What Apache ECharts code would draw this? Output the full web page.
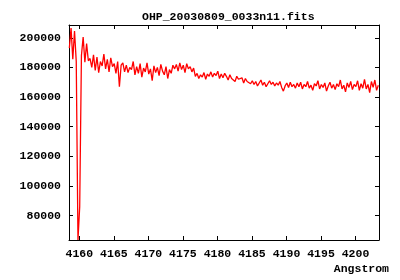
<!DOCTYPE html>
<html>
<head>
<meta charset="utf-8">
<script src="https://cdn.jsdelivr.net/npm/echarts@6/dist/echarts.min.js"></script>
<style>
  html, body { margin: 0; padding: 0; background: #fff; }
  #spec-chart { width: 400px; height: 280px; }
</style>
</head>
<body>
<div id="spec-chart"></div>
<script>
// wavelength grid of the spectrum (start + step, like the fits header)
var wlStart = 4158.55;
var wlStep = 0.25;

// flux, one value per grid point
var flux = [
  193000, 206500, 185500, 204500, 184000,
  63600, 86000,
  188000, 200500, 183500, 196000, 184500,
  186000, 180000, 188500,
  178000, 187000, 176500, 184000, 181000,
  189000, 179000, 185500, 177000, 186500, 180500,
  182500, 176000, 184000, 167000, 181500,
  183000, 177000, 181500, 176500, 180000,
  178500, 184000, 175000, 180500, 176000, 182500, 173500, 179500, 177000, 183000,
  175500, 179000, 171000, 181000, 176500, 180000, 174500, 182000, 177500, 175000,
  180500, 172500, 178500, 176000, 181500,
  179000, 182000, 177500, 183000, 178500, 181500, 176500, 182500, 179000, 180500,
  177000, 179500, 174000, 176000, 172500, 175000,
  173500, 176500, 172000, 175500, 174000, 177000, 173500, 176000, 174500, 177500,
  172500, 175500, 173000, 176000,
  174000, 171500, 175000, 172500, 173500, 170500, 174000, 172000, 171000, 173000,
  169500, 172500, 170500, 171500, 169000,
  171000, 168500, 170500, 167500, 169500, 171500, 168000, 170000, 167000, 169000,
  171000, 168500, 170000, 167500, 169500,
  168000, 170500, 166500, 164000, 167500, 169500, 166500, 170000, 167000, 168500,
  166000, 169500, 167000, 170000, 165500, 168500, 167000, 170500, 166000, 168000,
  164500, 169000, 167500, 171000, 165500, 168500, 166500, 169500, 164000, 167500,
  170000, 166000, 168500, 165000, 169000, 167000, 171500, 165500, 168000, 163500,
  169500, 166500, 170500, 165000, 168500, 167000, 171000, 164500, 169000, 166000,
  172000, 165500, 168500, 163000, 170500, 166500, 171500, 164500, 168000
];

var xTicks = [4160, 4165, 4170, 4175, 4180, 4185, 4190, 4195, 4200];
var yTicks = [80000, 100000, 120000, 140000, 160000, 180000, 200000];

var xMin = 4158.5, xMax = 4203.4;
var yMin = 63600, yMax = 208600;

var points = [];
for (var i = 0; i < flux.length; i++) {
  points.push([+(wlStart + i * wlStep).toFixed(2), flux[i]]);
}

var font = '"Liberation Mono", "DejaVu Sans Mono", monospace';

function plain(v) { return String(v); }

function xAxisOpt(pos, labels) {
  return {
    type: 'value', position: pos, min: xMin, max: xMax,
    axisLine: { show: true, onZero: false, lineStyle: { color: '#000', width: 1 } },
    axisTick: { show: true, inside: true, length: 4, customValues: xTicks, lineStyle: { color: '#000' } },
    axisLabel: {
      show: labels, customValues: xTicks, margin: 8, formatter: plain,
      color: '#000', fontFamily: font, fontWeight: 'bold', fontSize: 11.5
    },
    splitLine: { show: false }
  };
}
function yAxisOpt(pos, labels) {
  return {
    type: 'value', position: pos, min: yMin, max: yMax,
    axisLine: { show: true, onZero: false, lineStyle: { color: '#000', width: 1 } },
    axisTick: { show: true, inside: true, length: 4, customValues: yTicks, lineStyle: { color: '#000' } },
    axisLabel: {
      show: labels, customValues: yTicks, margin: 8, formatter: plain,
      color: '#000', fontFamily: font, fontWeight: 'bold', fontSize: 11.5
    },
    splitLine: { show: false }
  };
}

var myChart = echarts.init(document.getElementById('spec-chart'));
myChart.setOption({
  animation: false,
  backgroundColor: '#fff',
  title: {
    text: 'OHP_20030809_0033n11.fits',
    left: 137, top: 6,
    textStyle: { color: '#000', fontFamily: font, fontWeight: 'bold', fontSize: 11.5 }
  },
  grid: { left: 69, right: 21, top: 25, bottom: 40 },
  xAxis: [ xAxisOpt('bottom', true), xAxisOpt('top', false) ],
  yAxis: [ yAxisOpt('left', true), yAxisOpt('right', false) ],
  graphic: [{
    type: 'text', right: 11, top: 263,
    style: { text: 'Angstrom', fill: '#000', font: 'bold 11.5px ' + font }
  }],
  series: [{
    type: 'line',
    data: points,
    showSymbol: false,
    lineStyle: { color: '#ff0000', width: 1.3 },
    clip: true
  }]
});
</script>
</body>
</html>
